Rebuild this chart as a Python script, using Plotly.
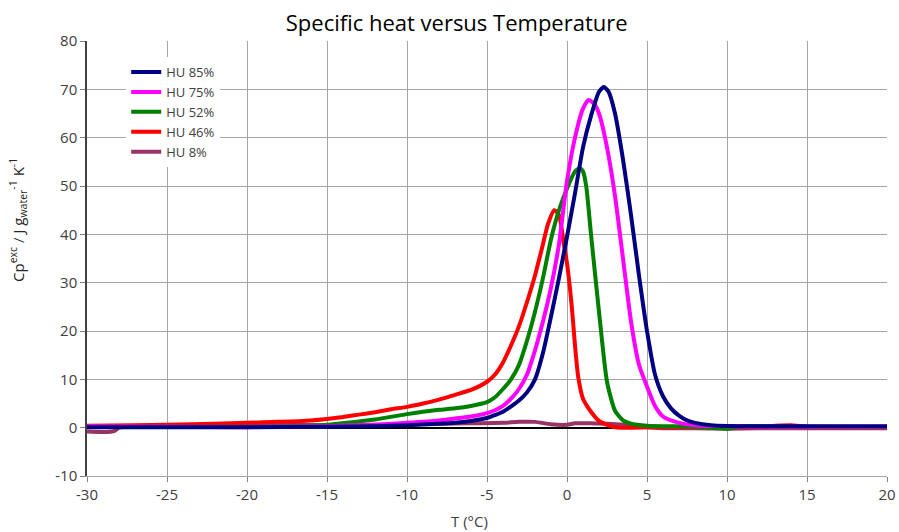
import plotly.graph_objects as go

# ---- data ----
t_85 = [-30, -20, -15, -12, -10, -8, -7, -6, -5, -4.5, -4, -3.5, -3, -2.5, -2, -1.5, -1, -0.5, 0, 0.5, 1, 1.5, 2, 2.3, 2.6, 3, 3.5, 4, 4.5, 5, 5.5, 6, 6.5, 7, 7.5, 8, 9, 10, 12, 14, 16, 18, 20]
cp_85 = [0.1, 0.1, 0.2, 0.3, 0.5, 0.8, 1.0, 1.4, 2.0, 2.6, 3.3, 4.4, 5.6, 7.3, 10, 15.5, 23, 31, 39.5, 48.5, 58, 64.5, 69.5, 70.5, 69.5, 65, 55.5, 44, 31.5, 20, 11, 6.5, 4, 2.5, 1.5, 1.0, 0.5, 0.35, 0.3, 0.3, 0.3, 0.3, 0.3]

t_75 = [-30, -25, -20, -15, -12, -10, -8, -7, -6, -5, -4.5, -4, -3.5, -3, -2.5, -2, -1.5, -1, -0.5, 0, 0.5, 1, 1.35, 1.7, 2, 2.5, 3, 3.5, 4, 4.5, 5, 5.5, 6, 6.5, 7, 8, 10, 12, 15, 20]
cp_75 = [0.3, 0.2, 0.1, 0.3, 0.6, 1.0, 1.5, 1.9, 2.3, 3.0, 3.6, 4.5, 6, 8, 11, 16, 22, 29, 38, 51, 60, 66, 67.8, 67, 65, 58, 48, 35, 22, 13, 8.5, 4.5, 2.3, 1.5, 1.0, 0.5, 0.3, 0.2, 0.2, 0.2]

t_52 = [-30, -25, -20, -17, -15, -13, -12, -10, -9, -8, -7, -6, -5, -4.5, -4, -3.5, -3, -2.5, -2, -1.5, -1, -0.5, 0, 0.5, 0.8, 1.0, 1.2, 1.5, 2, 2.5, 3, 3.5, 4, 5, 8, 10, 11, 14, 20]
cp_52 = [0.2, 0.2, 0.2, 0.3, 0.6, 1.3, 1.7, 2.8, 3.3, 3.7, 4.0, 4.5, 5.3, 6.3, 8, 10, 13, 18, 24, 31, 39, 45, 49.5, 53, 53.7, 53, 50, 40, 24, 9.5, 3.5, 1.5, 0.8, 0.4, 0.2, -0.2, 0.3, 0.2, 0.1]

t_46 = [-30, -27, -25, -22, -20, -18, -16, -15, -14, -13, -12, -11, -10, -9, -8, -7, -6, -5, -4.5, -4, -3.5, -3, -2.5, -2, -1.5, -1.2, -0.8, -0.5, -0.2, 0, 0.3, 0.5, 0.7, 1, 1.5, 2, 2.5, 3, 4, 5, 8, 12, 13, 14, 15, 17, 20]
cp_46 = [0.4, 0.5, 0.6, 0.8, 1.0, 1.2, 1.5, 1.8, 2.2, 2.7, 3.2, 3.8, 4.3, 5.0, 5.8, 6.8, 7.8, 9.5, 11, 13.5, 17, 21, 26, 31.5, 38, 42, 45, 44, 38, 34, 25, 17, 10.5, 6, 3.3, 1.4, 0.6, 0.1, 0, 0.1, 0.1, 0.2, 0.4, 0.5, 0.2, 0.1, 0.1]

t_8 = [-30, -29, -28.3, -28, -27, -25, -22, -20, -18, -15, -12, -10, -8, -6, -4, -3, -2, -1, 0, 0.5, 1.5, 3, 4, 5, 6, 8, 10, 12, 15, 20]
cp_8 = [-0.8, -0.9, -0.7, 0.0, 0.3, 0.4, 0.6, 0.6, 0.6, 0.5, 0.6, 0.7, 0.8, 0.9, 1.0, 1.2, 1.2, 0.7, 0.6, 0.9, 0.9, 0.7, 0.5, 0.1, -0.1, -0.1, -0.2, -0.1, -0.1, -0.1]

series = [
    ("HU 85%", t_85, cp_85, "#000080"),
    ("HU 75%", t_75, cp_75, "#FF00FF"),
    ("HU 52%", t_52, cp_52, "#008000"),
    ("HU 46%", t_46, cp_46, "#FF0000"),
    ("HU 8%", t_8, cp_8, "#993366"),
]

x_ticks = [-30, -25, -20, -15, -10, -5, 0, 5, 10, 15, 20]
y_ticks = [-10, 0, 10, 20, 30, 40, 50, 60, 70, 80]

FONT = "Open Sans, Lato, sans-serif"
TXT = "#404040"

fig = go.Figure()
# draw in reverse so navy ends on top like the reference
for name, t, cp, col in reversed(series):
    fig.add_trace(go.Scatter(
        x=t, y=cp, name=name, mode="lines",
        line=dict(color=col, width=4, shape="spline", smoothing=0.6),
    ))

fig.update_layout(
    width=899, height=532,
    margin=dict(l=87, r=12, t=41, b=56),
    paper_bgcolor="white", plot_bgcolor="white",
    font=dict(family=FONT, color=TXT),
    title=dict(text="Specific heat versus Temperature", x=0.508, xanchor="center",
               y=0.957, yanchor="middle", font=dict(size=22, color="#000000", family=FONT)),
    legend=dict(x=0.049, y=0.963, xanchor="left", yanchor="top",
                bgcolor="white", borderwidth=0, traceorder="reversed",
                font=dict(size=13, color=TXT, family=FONT),
                tracegroupgap=0),
    showlegend=True,
    annotations=[
        dict(text="T (°C)", xref="paper", yref="paper", x=0.478, y=-0.103,
             xanchor="center", yanchor="middle", showarrow=False,
             font=dict(size=15, color=TXT, family=FONT)),
        dict(text="Cp<sup>exc</sup> / J g<sub>water</sub><sup>-1</sup> K<sup>-1</sup>",
             xref="paper", yref="paper", x=-0.086, y=0.589, textangle=-90,
             xanchor="center", yanchor="middle", showarrow=False,
             font=dict(size=15, color="#262626", family=FONT)),
    ],
)

fig.update_xaxes(
    range=[-30, 20], tickvals=x_ticks, ticktext=[str(v) for v in x_ticks],
    showgrid=True, gridcolor="#A6A6A6", gridwidth=1,
    showline=True, linecolor="#A6A6A6", linewidth=1,
    ticks="outside", ticklen=5, tickcolor="#7F7F7F",
    tickfont=dict(size=15, color=TXT, family=FONT),
    zeroline=False, automargin=False,
)
fig.update_yaxes(
    range=[-10, 80], tickvals=y_ticks, ticktext=[str(v) for v in y_ticks],
    showgrid=True, gridcolor="#A6A6A6", gridwidth=1,
    showline=True, linecolor="#404040", linewidth=1.5,
    ticks="outside", ticklen=5, tickcolor="#7F7F7F",
    tickfont=dict(size=15, color=TXT, family=FONT),
    zeroline=True, zerolinecolor="#000000", zerolinewidth=1.5,
    automargin=False,
)

fig.write_html("out.html", config={"displayModeBar": False},
               post_script="document.body.style.margin='0';")
